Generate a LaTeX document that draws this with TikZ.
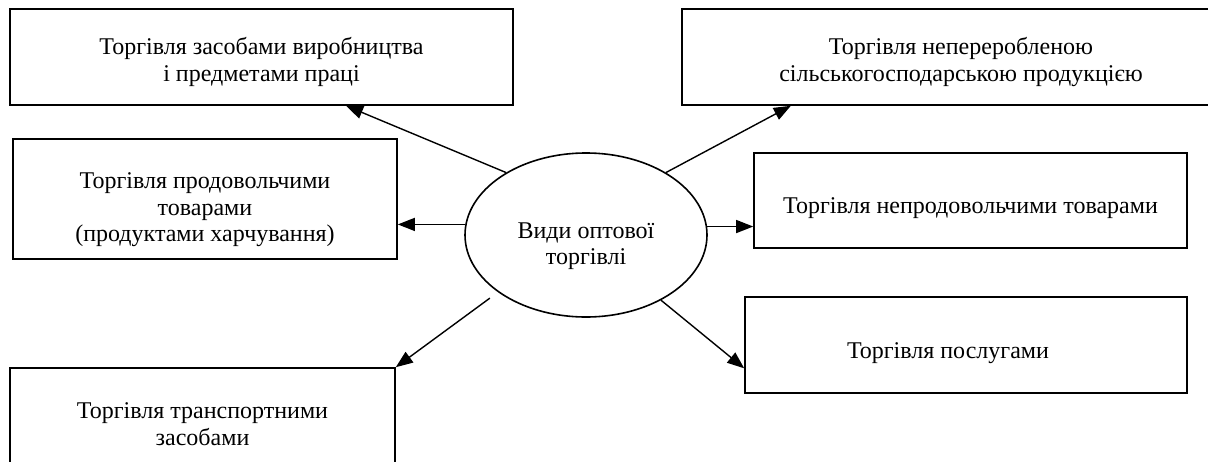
\documentclass[tikz,border=0pt]{standalone}
\usepackage{fontspec}
\setmainfont{Liberation Serif}
\usepackage{tikz}
\usetikzlibrary{shapes.geometric, arrows.meta}

\begin{document}
\begin{tikzpicture}[x=0.5pt, y=-0.5pt,
    every node/.style={font=\fontsize{12}{13.2}\selectfont},
    vid/.style={draw, line width=0.8pt, inner sep=0pt},
    txt/.style={align=center, inner sep=0pt},
    link/.style={-{Triangle[length=8.5pt, width=6.5pt]}, line width=0.7pt}]
    \useasboundingbox (0,0) rectangle (1208,461);

    % Central ellipse
    \node[vid, ellipse, minimum width=121pt, minimum height=82pt,
        label={[txt, yshift=-5.5pt]center:{Види оптової\\торгівлі}}] (hub) at (586,235) {};

    % Kinds of wholesale trade
    \node[vid, minimum width=251.5pt, minimum height=48pt,
        label={[txt, yshift=-2.5pt]center:{Торгівля засобами виробництва\\і предметами праці}}] (tools) at (261.5,57) {};
    \node[vid, minimum width=279pt, minimum height=48pt,
        label={[txt, yshift=-2.5pt]center:{Торгівля непереробленою\\сільськогосподарською продукцією}}] (agri) at (961,57) {};
    \node[vid, minimum width=192pt, minimum height=60pt,
        label={[txt, yshift=-5.5pt]center:{Торгівля продовольчими\\товарами\\(продуктами харчування)}}] (food) at (205,199) {};
    \node[vid, minimum width=216.5pt, minimum height=47.5pt,
        label={[txt, yshift=-4pt]center:Торгівля непродовольчими товарами}] (nonfood) at (970.5,200.5) {};
    \node[vid, minimum width=221pt, minimum height=48pt,
        label={[txt, xshift=-9pt, yshift=-4pt]center:Торгівля послугами}] (services) at (966,345) {};
    \node[vid, minimum width=192.5pt, minimum height=56pt,
        label={[txt]center:{Торгівля транспортними\\засобами}}] (transport) at (202.5,424) {};

    % Arrows from the centre
    \draw[link] (hub.142) -- (tools.-30);
    \draw[link] (hub.38) -- (agri.196);
    \draw[link] (hub.175) -- (hub.175 -| food.east);
    \draw[link] (hub.4) -- (hub.4 -| nonfood.west);
    \draw[link, shorten <=5pt] (hub.213) -- (transport.north east);
    \draw[link] (hub.-41) -- (services.186);
\end{tikzpicture}
\end{document}
